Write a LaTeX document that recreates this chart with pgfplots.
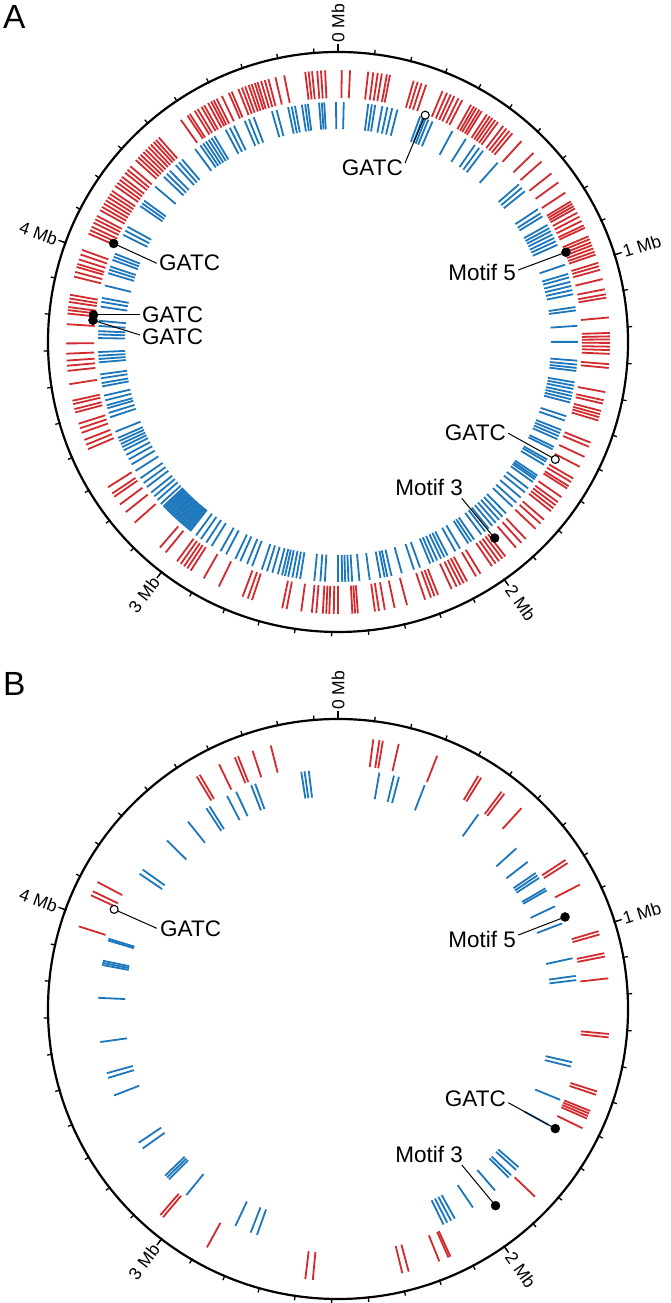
\documentclass[border=0pt]{standalone}
\usepackage{fontspec}
\setmainfont{Liberation Sans}
\usepackage{pgfplots}
\usepackage{pgfplotstable}
\pgfplotsset{compat=1.18}

\definecolor{fred}{HTML}{D32A2E}
\definecolor{fblue}{HTML}{1B76BC}
\def\dpm{72.5}% degrees per Mb

\newcommand{\lbl}{\fontsize{22.5}{26}\selectfont}
\newcommand{\mbf}{\fontsize{17.5}{20}\selectfont}

% positions in Mb
\pgfplotstableread[row sep=\\]{p\\
0.011\\ 0.035\\ 0.088\\ 0.103\\ 0.116\\ 0.128\\ 0.143\\ 0.152\\ 0.223\\ 0.235\\ 0.247\\ 0.261\\ 0.312\\ 0.326\\ 0.338\\ 0.349\\ 0.363\\ 0.375\\
0.404\\ 0.414\\ 0.422\\ 0.432\\ 0.440\\ 0.458\\ 0.468\\ 0.477\\ 0.487\\ 0.497\\ 0.516\\ 0.528\\ 0.539\\ 0.550\\ 0.585\\ 0.634\\ 0.668\\ 0.713\\
0.746\\ 0.782\\ 0.812\\ 0.820\\ 0.828\\ 0.836\\ 0.850\\ 0.863\\ 0.877\\ 0.891\\ 0.899\\ 0.926\\ 0.935\\ 0.945\\ 0.954\\ 0.964\\ 0.974\\ 0.983\\
1.008\\ 1.018\\ 1.029\\ 1.057\\ 1.087\\ 1.102\\ 1.112\\ 1.170\\ 1.215\\ 1.225\\ 1.234\\ 1.244\\ 1.255\\ 1.265\\ 1.276\\ 1.306\\ 1.317\\ 1.388\\
1.412\\ 1.422\\ 1.444\\ 1.454\\ 1.463\\ 1.473\\ 1.541\\ 1.554\\ 1.586\\ 1.618\\ 1.657\\ 1.669\\ 1.683\\ 1.691\\ 1.721\\ 1.739\\ 1.750\\ 1.761\\
1.772\\ 1.804\\ 1.819\\ 1.840\\ 1.881\\ 1.898\\ 1.919\\ 1.959\\ 1.970\\ 1.982\\ 1.994\\ 2.007\\ 2.047\\ 2.062\\ 2.092\\ 2.103\\ 2.114\\ 2.126\\
2.142\\ 2.185\\ 2.196\\ 2.207\\ 2.225\\ 2.280\\ 2.317\\ 2.346\\ 2.363\\ 2.375\\ 2.425\\ 2.433\\ 2.441\\ 2.483\\ 2.495\\ 2.508\\ 2.517\\ 2.527\\
2.546\\ 2.559\\ 2.590\\ 2.633\\ 2.646\\ 2.737\\ 2.750\\ 2.766\\ 2.841\\ 2.891\\ 2.935\\ 2.947\\ 2.958\\ 2.970\\ 2.983\\ 3.025\\ 3.047\\ 3.150\\
3.190\\ 3.218\\ 3.246\\ 3.257\\ 3.279\\ 3.404\\ 3.418\\ 3.433\\ 3.455\\ 3.469\\ 3.483\\ 3.517\\ 3.527\\ 3.542\\ 3.552\\ 3.601\\
3.640\\ 3.655\\ 3.670\\ 3.690\\ 3.720\\ 3.776\\ 3.807\\ 3.817\\ 3.826\\ 3.841\\ 3.851\\ 3.862\\ 3.916\\ 3.930\\ 3.945\\ 3.954\\ 3.968\\ 3.983\\
3.997\\ 4.048\\ 4.059\\ 4.070\\ 4.083\\ 4.094\\ 4.105\\ 4.124\\ 4.135\\ 4.146\\ 4.157\\ 4.168\\ 4.179\\ 4.190\\ 4.207\\ 4.218\\ 4.229\\ 4.240\\
4.255\\ 4.266\\ 4.279\\ 4.303\\ 4.314\\ 4.324\\ 4.335\\ 4.345\\ 4.356\\ 4.366\\ 4.377\\ 4.386\\ 4.397\\ 4.479\\ 4.502\\ 4.510\\ 4.527\\ 4.537\\
4.550\\ 4.559\\ 4.572\\ 4.582\\ 4.590\\ 4.600\\ 4.617\\ 4.639\\ 4.648\\ 4.669\\ 4.680\\ 4.690\\ 4.701\\ 4.710\\ 4.720\\ 4.728\\ 4.739\\ 4.750\\
4.761\\ 4.782\\ 4.808\\ 4.870\\ 4.880\\ 4.890\\ 4.905\\ 4.916\\ 4.928\\
}\redA

\pgfplotstableread[row sep=\\]{p\\
0.019\\ 0.100\\ 0.112\\ 0.123\\ 0.147\\ 0.164\\ 0.180\\ 0.198\\ 0.276\\ 0.286\\ 0.295\\ 0.305\\ 0.320\\ 0.393\\ 0.444\\ 0.480\\ 0.497\\ 0.513\\
0.575\\ 0.675\\ 0.690\\ 0.705\\ 0.778\\ 0.794\\ 0.806\\ 0.839\\ 0.851\\ 0.862\\ 0.874\\ 0.887\\ 0.899\\ 0.912\\ 0.982\\ 1.014\\ 1.026\\ 1.041\\
1.055\\ 1.069\\ 1.083\\ 1.126\\ 1.137\\ 1.188\\ 1.241\\ 1.303\\ 1.316\\ 1.327\\ 1.337\\ 1.375\\ 1.386\\ 1.397\\ 1.410\\ 1.421\\ 1.432\\ 1.443\\
1.490\\ 1.505\\ 1.538\\ 1.549\\ 1.560\\ 1.571\\ 1.599\\ 1.608\\ 1.646\\ 1.654\\ 1.666\\ 1.708\\ 1.716\\ 1.723\\ 1.734\\ 1.760\\ 1.777\\ 1.799\\
1.821\\ 1.839\\ 1.870\\ 1.886\\ 1.901\\ 1.916\\ 1.931\\ 1.946\\ 1.961\\ 1.977\\ 2.006\\ 2.018\\ 2.029\\ 2.061\\ 2.079\\ 2.108\\ 2.120\\ 2.132\\
2.146\\ 2.159\\ 2.171\\ 2.207\\ 2.228\\ 2.270\\ 2.305\\ 2.319\\ 2.328\\ 2.342\\ 2.378\\ 2.412\\ 2.436\\ 2.448\\ 2.459\\ 2.469\\ 2.483\\ 2.526\\
2.541\\ 2.561\\ 2.608\\ 2.621\\ 2.634\\ 2.648\\ 2.659\\ 2.669\\ 2.683\\ 2.702\\ 2.720\\ 2.738\\ 2.772\\ 2.790\\ 2.814\\ 2.832\\ 2.866\\ 2.887\\
2.921\\ 2.942\\ 2.963\\ 2.983\\ 3.007\\ 3.013\\ 3.019\\ 3.025\\ 3.031\\ 3.037\\ 3.043\\ 3.049\\ 3.055\\ 3.061\\ 3.067\\ 3.073\\ 3.079\\ 3.085\\
3.091\\ 3.097\\ 3.103\\ 3.109\\ 3.115\\ 3.121\\ 3.127\\ 3.139\\ 3.156\\ 3.172\\ 3.188\\ 3.211\\ 3.228\\ 3.247\\ 3.276\\ 3.301\\ 3.320\\
3.337\\ 3.354\\ 3.366\\ 3.377\\ 3.388\\ 3.399\\ 3.421\\ 3.472\\ 3.487\\ 3.503\\ 3.513\\ 3.530\\ 3.546\\ 3.577\\
3.588\\ 3.604\\ 3.617\\ 3.657\\ 3.668\\ 3.679\\ 3.691\\ 3.737\\ 3.749\\ 3.760\\ 3.777\\ 3.794\\ 3.841\\ 3.857\\ 3.870\\ 3.912\\ 3.954\\ 3.966\\
3.977\\ 4.000\\ 4.011\\ 4.022\\ 4.090\\ 4.105\\ 4.120\\ 4.200\\ 4.211\\ 4.222\\ 4.281\\ 4.324\\ 4.338\\ 4.352\\ 4.379\\ 4.393\\ 4.407\\ 4.462\\
4.483\\ 4.494\\ 4.505\\ 4.516\\ 4.527\\ 4.538\\ 4.581\\ 4.596\\ 4.611\\ 4.650\\ 4.665\\ 4.682\\ 4.745\\ 4.761\\ 4.800\\ 4.812\\ 4.823\\ 4.846\\
4.857\\ 4.866\\ 4.903\\ 4.912\\ 4.920\\ 4.959\\
}\blueA

\pgfplotstableread[row sep=\\]{p\\
0.103\\ 0.121\\ 0.131\\ 0.178\\ 0.295\\ 0.428\\ 0.438\\ 0.510\\ 0.520\\ 0.585\\ 0.783\\ 0.794\\ 0.866\\ 1.012\\ 1.022\\ 1.078\\ 1.088\\ 1.152\\
1.314\\ 1.324\\ 1.485\\ 1.495\\ 1.545\\ 1.553\\ 1.561\\ 1.569\\ 1.600\\ 1.843\\ 2.146\\ 2.152\\ 2.181\\ 2.275\\ 2.294\\ 2.556\\ 2.578\\ 2.880\\
3.035\\ 3.045\\ 3.968\\ 4.065\\ 4.078\\ 4.108\\ 4.534\\ 4.544\\ 4.608\\ 4.658\\ 4.668\\ 4.713\\ 4.768\\
}\redB

\pgfplotstableread[row sep=\\]{p\\
0.137\\ 0.186\\ 0.203\\ 0.292\\ 0.494\\ 0.662\\ 0.720\\ 0.765\\ 0.775\\ 0.785\\ 0.825\\ 0.833\\ 0.892\\ 0.953\\ 1.073\\ 1.132\\ 1.146\\ 1.418\\
1.433\\ 1.548\\ 1.639\\ 1.810\\ 1.822\\ 1.846\\ 1.857\\ 1.919\\ 2.011\\ 2.081\\ 2.095\\ 2.109\\ 2.123\\ 2.755\\ 2.777\\ 2.832\\ 3.023\\ 3.100\\
3.109\\ 3.118\\ 3.234\\ 3.257\\ 3.433\\ 3.494\\ 3.510\\ 3.615\\ 3.761\\ 3.870\\ 3.877\\ 3.884\\ 3.953\\ 3.959\\ 4.197\\ 4.214\\ 4.339\\ 4.432\\
4.507\\ 4.519\\ 4.586\\ 4.619\\ 4.673\\ 4.687\\ 4.844\\ 4.855\\ 4.869\\
}\blueB

% radial feature ticks: colour, inner radius, outer radius, table
\newcommand{\ring}[4]{%
  \addplot[#1, line width=1.8pt, mark=none,
    quiver={u={(#3-#2)*sin(\thisrow{p}*\dpm)}, v={(#3-#2)*cos(\thisrow{p}*\dpm)}}]
    table[x index=0, y index=0, x expr={#2*sin(\thisrow{p}*\dpm)}, y expr={#2*cos(\thisrow{p}*\dpm)}] {#4};}

% outer circle, ticks every 0.1 Mb, labels every 1 Mb
\newcommand{\genomescale}{%
  \draw[line width=2.2pt] (axis cs:0,0) circle[radius=290pt];
  \pgfplotsinvokeforeach{0,...,49}{%
    \draw[line width=1.3pt] (axis cs:0,0) ++({90-##1*\dpm/10}:289pt) -- ++({90-##1*\dpm/10}:5.5pt);}
  \pgfplotsinvokeforeach{0,...,4}{%
    \draw[line width=1.3pt] (axis cs:0,0) ++({90-##1*\dpm}:289pt) -- ++({90-##1*\dpm}:8.5pt);}
  \path (axis cs:0,0) ++(90:298pt) node[rotate=90,anchor=west,inner sep=1pt,font=\mbf]{0 Mb};
  \path (axis cs:0,0) ++(17.5:298pt) node[rotate=17.5,anchor=west,inner sep=1pt,font=\mbf]{1 Mb};
  \path (axis cs:0,0) ++(-55:298pt) node[rotate=-55,anchor=west,inner sep=1pt,font=\mbf]{2 Mb};
  \path (axis cs:0,0) ++(-127.5:298pt) node[rotate=52.5,anchor=east,inner sep=1pt,font=\mbf]{3 Mb};
  \path (axis cs:0,0) ++(160:298pt) node[rotate=-20,anchor=east,inner sep=1pt,font=\mbf]{4 Mb};
}

\pgfplotsset{genome/.style={hide axis, x=1pt, y=1pt, xmin=-338, xmax=332,
  ymin=-300, ymax=300, clip=false, anchor=origin}}

\begin{document}
\begin{tikzpicture}
% ---------------- panel A ----------------
\begin{axis}[genome, at={(338pt,961pt)}]
  \genomescale
  \ring{fred}{244}{272}{\redA}
  \ring{fblue}{213}{240}{\blueA}
  \draw[line width=1pt] (axis cs:87.2,226.8) -- (axis cs:67,179);
  \draw[line width=1pt] (axis cs:-224.3,98.5) -- (axis cs:-181.3,78.7);
  \draw[line width=1pt] (axis cs:-244.5,27.0) -- (axis cs:-198,27);
  \draw[line width=1pt] (axis cs:-245.0,21.7) -- (axis cs:-198,7);
  \draw[line width=1pt] (axis cs:228.0,89.8) -- (axis cs:180.3,72);
  \draw[line width=1pt] (axis cs:217.3,-117.4) -- (axis cs:170.3,-91.3);
  \draw[line width=1pt] (axis cs:156.6,-196.2) -- (axis cs:123.8,-156.3);
  \addplot[only marks, mark=*, mark size=4.5pt, black]
    table[row sep=\\, x expr={\thisrow{r}*sin(\thisrow{p}*\dpm)}, y expr={\thisrow{r}*cos(\thisrow{p}*\dpm)}]
    {p r\\ 4.051 245\\ 3.811 246\\ 3.794 246\\ 0.945 245\\ 1.950 251\\};
  \addplot[only marks, mark=*, mark size=4pt, mark options={fill=white, draw=black, line width=1.1pt}]
    table[row sep=\\, x expr={\thisrow{r}*sin(\thisrow{p}*\dpm)}, y expr={\thisrow{r}*cos(\thisrow{p}*\dpm)}]
    {p r\\ 0.290 243\\ 1.633 247\\};
  \node[anchor=east, inner sep=0pt, font=\lbl] at (axis cs:65,174.5) {GATC};
  \node[anchor=west, inner sep=0pt, font=\lbl] at (axis cs:-179,79.5) {GATC};
  \node[anchor=west, inner sep=0pt, font=\lbl] at (axis cs:-196,27) {GATC};
  \node[anchor=west, inner sep=0pt, font=\lbl] at (axis cs:-196,5.5) {GATC};
  \node[anchor=east, inner sep=0pt, font=\lbl] at (axis cs:178,70) {Motif 5};
  \node[anchor=east, inner sep=0pt, font=\lbl] at (axis cs:168,-90.5) {GATC};
  \node[anchor=east, inner sep=0pt, font=\lbl] at (axis cs:125,-145) {Motif 3};
\end{axis}
% ---------------- panel B ----------------
\begin{axis}[genome, at={(338pt,294pt)}]
  \genomescale
  \ring{fred}{244}{272}{\redB}
  \ring{fblue}{213}{240}{\blueB}
  \draw[line width=1pt] (axis cs:-223.8,99.6) -- (axis cs:-181.3,80.7);
  \draw[line width=1pt] (axis cs:227.0,92.0) -- (axis cs:180.3,74);
  \draw[line width=1pt] (axis cs:217.3,-119.6) -- (axis cs:170.3,-93.7);
  \draw[line width=1pt] (axis cs:157.5,-196.7) -- (axis cs:123.8,-156);
  \addplot[only marks, mark=*, mark size=4.5pt, black]
    table[row sep=\\, x expr={\thisrow{r}*sin(\thisrow{p}*\dpm)}, y expr={\thisrow{r}*cos(\thisrow{p}*\dpm)}]
    {p r\\ 0.937 245\\ 1.639 248\\ 1.949 252\\};
  \addplot[only marks, mark=*, mark size=4pt, mark options={fill=white, draw=black, line width=1.1pt}]
    table[row sep=\\, x expr={\thisrow{r}*sin(\thisrow{p}*\dpm)}, y expr={\thisrow{r}*cos(\thisrow{p}*\dpm)}]
    {p r\\ 4.055 245\\};
  \node[anchor=west, inner sep=0pt, font=\lbl] at (axis cs:-178,80) {GATC};
  \node[anchor=east, inner sep=0pt, font=\lbl] at (axis cs:178,70) {Motif 5};
  \node[anchor=east, inner sep=0pt, font=\lbl] at (axis cs:168,-90) {GATC};
  \node[anchor=east, inner sep=0pt, font=\lbl] at (axis cs:125,-145.5) {Motif 3};
\end{axis}
\node[anchor=north west, inner sep=0pt, font=\fontsize{33.5}{36}\selectfont] at (3pt,1298pt) {A};
\node[anchor=north west, inner sep=0pt, font=\fontsize{33.5}{36}\selectfont] at (3pt,631pt) {B};
\pgfresetboundingbox
\useasboundingbox (0,0) rectangle (670pt,1303pt);
\end{tikzpicture}
\end{document}
